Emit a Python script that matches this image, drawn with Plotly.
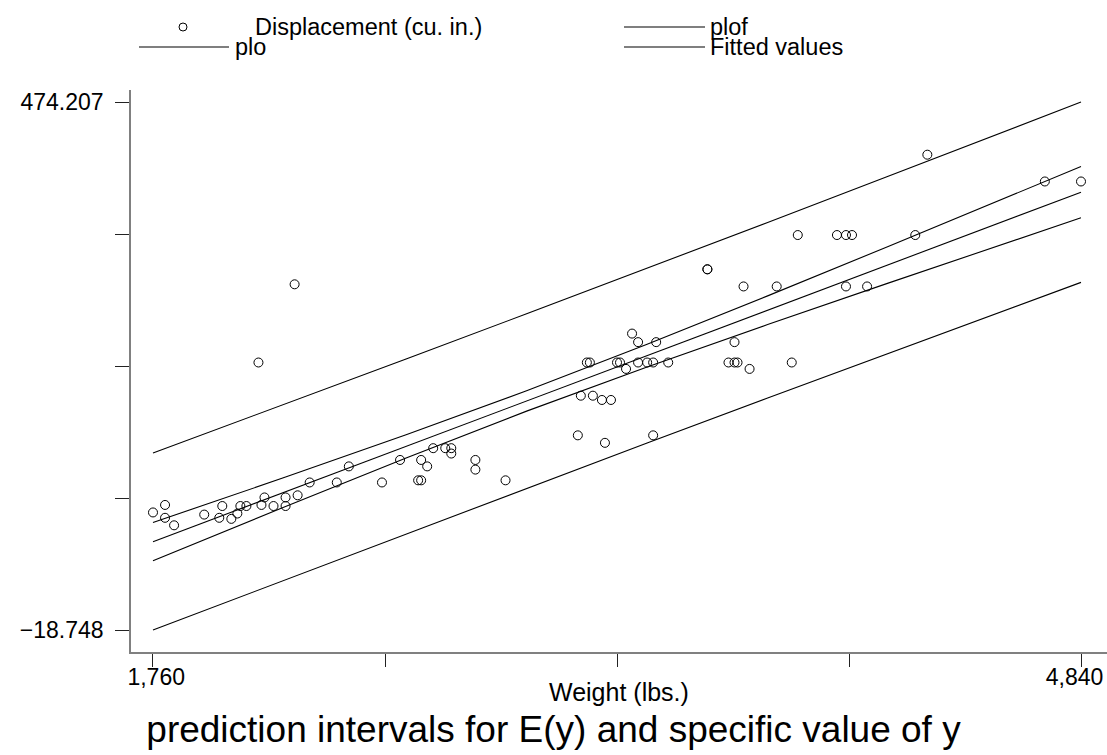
import plotly.graph_objects as go

# ---- data: auto dataset (weight in lbs, displacement in cu. in.) ----
weight = [2930, 3350, 2640, 3250, 4080, 3670, 2230, 3280, 3880, 3400,
          4330, 3900, 4290, 2110, 3690, 3180, 3220, 2750, 3430, 2120,
          3600, 3600, 3740, 1800, 2650, 4840, 4720, 3830, 2580, 4060,
          3720, 3370, 4130, 2830, 4060, 3310, 3300, 3690, 3370, 2730,
          4030, 3260, 1800, 2200, 2520, 3330, 3700, 3470, 3210, 3200,
          3420, 2690, 2830, 2070, 2650, 2370, 2020, 2280, 2750, 2130,
          2240, 1760, 1980, 3420, 1830, 2050, 2410, 2200, 2670, 2160,
          2040, 1930, 1990, 3170]
displacement = [121, 258, 121, 196, 350, 231, 304, 196, 231, 231,
                425, 350, 350, 231, 250, 200, 200, 151, 250, 98,
                318, 318, 225, 98, 140, 400, 400, 302, 140, 302,
                302, 250, 302, 140, 350, 231, 231, 231, 231, 151,
                350, 156, 86, 105, 119, 225, 231, 231, 231, 231,
                231, 151, 131, 97, 121, 119, 85, 119, 146, 105,
                107, 91, 86, 163, 79, 97, 134, 97, 134, 97,
                90, 89, 97, 163]

line_weight = [1760, 2200, 2600, 3000, 3400, 3800, 4200, 4840]
fitted      = [63.7, 110.3, 152.7, 195.1, 237.4, 279.8, 322.2, 390.0]
plof_hi     = [146.5, 192.3, 234.3, 276.5, 318.9, 361.7, 404.8, 474.2]
plof_lo     = [-18.7, 28.3, 71.1, 113.7, 155.9, 197.9, 239.6, 305.8]
plo_hi      = [81.6, 124.0, 163.5, 204.6, 248.0, 293.2, 339.3, 413.9]
plo_lo      = [45.8, 96.6, 141.9, 185.6, 226.8, 266.4, 305.1, 366.1]

x_tickvals = [1760, 2530, 3300, 4070, 4840]
x_ticktext = ["\u00a01,760", "", "", "", "4,840\u00a0\u00a0"]
y_tickvals = [-18.748, 104.4915, 227.7295, 350.9675, 474.207]
y_ticktext = ["\u221218.748", "", "", "", "474.207"]

legend_names = ["Displacement (cu. in.)", "plof", "plo", "Fitted values"]
x_title = "Weight (lbs.)"
chart_title = "prediction intervals for E(y) and specific value of y"

FONT = "Liberation Sans, Arial, Helvetica, sans-serif"
W, H = 1107, 755
ML, MR, MT, MB = 131, 0, 90, 103
PW, PH = W - ML - MR, H - MT - MB

def px(xp):
    return (xp - ML) / PW

def py(yp):
    return (H - MB - yp) / PH

fig = go.Figure()
fig.add_trace(go.Scatter(
    x=weight, y=displacement, mode="markers", name=legend_names[0],
    marker=dict(symbol="circle-open", size=9, color="black",
                line=dict(width=1, color="black")),
    showlegend=False))

line_style = dict(color="black", width=1.1)
fig.add_trace(go.Scatter(
    x=line_weight + [None] + line_weight, y=plof_hi + [None] + plof_lo,
    mode="lines", name=legend_names[1], line=line_style, showlegend=False))
fig.add_trace(go.Scatter(
    x=line_weight + [None] + line_weight, y=plo_hi + [None] + plo_lo,
    mode="lines", name=legend_names[2], line=line_style, showlegend=False))
fig.add_trace(go.Scatter(
    x=line_weight, y=fitted, mode="lines", name=legend_names[3],
    line=line_style, showlegend=False))

# ---- custom Stata-style legend ----
shapes = []
annotations = []
row_y = [27, 47]
# (row, key x0, key x1, text x, kind)
entries = [
    (0, 139, 228, 253, "marker"),
    (0, 624, 705, 708, "line"),
    (1, 139, 229, 233, "line"),
    (1, 624, 705, 708, "line"),
]
for i, (r, k0, k1, tx, kind) in enumerate(entries):
    yv = py(row_y[r])
    if kind == "marker":
        cx = px(183)
        shapes.append(dict(type="circle", xref="paper", yref="paper",
                           xsizemode="pixel", ysizemode="pixel",
                           xanchor=cx, yanchor=yv, x0=-4, x1=4, y0=-4, y1=4,
                           line=dict(color="black", width=1)))
    else:
        shapes.append(dict(type="line", xref="paper", yref="paper",
                           x0=px(k0), x1=px(k1), y0=yv, y1=yv,
                           line=dict(color="black", width=1.1)))
    annotations.append(dict(text=legend_names[i], xref="paper", yref="paper",
                            x=px(tx), y=yv, xanchor="left",
                            yanchor="middle", showarrow=False,
                            font=dict(family=FONT, size=23.5, color="black")))

# x-axis title
annotations.append(dict(text=x_title, xref="paper", yref="paper",
                        x=0.5, y=py(692), xanchor="center", yanchor="middle",
                        showarrow=False,
                        font=dict(family=FONT, size=25, color="black")))

fig.update_layout(
    width=W, height=H,
    margin=dict(l=ML, r=MR, t=MT, b=MB, pad=0),
    paper_bgcolor="white", plot_bgcolor="white",
    font=dict(family=FONT, color="black"),
    title=dict(text=chart_title,
               xref="container", yref="container", x=0.5, xanchor="center",
               y=1 - 729 / H, yanchor="middle", automargin=False,
               font=dict(family=FONT, size=37, color="black")),
    xaxis=dict(range=[1687.0, 4926.3], showgrid=False, zeroline=False,
               automargin=False,
               showline=True, linecolor="#808080", linewidth=1.5,
               ticks="outside", ticklen=13, tickwidth=1, tickcolor="#222",
               tickvals=x_tickvals, ticktext=x_ticktext,
               ticklabelstandoff=-9, ticklabeloverflow="allow",
               tickfont=dict(family=FONT, size=23, color="black")),
    yaxis=dict(range=[-39.29, 485.41], showgrid=False, zeroline=False,
               automargin=False,
               showline=True, linecolor="#808080", linewidth=1.5,
               ticks="outside", ticklen=14, tickwidth=1, tickcolor="#222",
               tickvals=y_tickvals, ticktext=y_ticktext,
               ticklabelstandoff=7, ticklabeloverflow="allow",
               tickfont=dict(family=FONT, size=23, color="black")),
    shapes=shapes, annotations=annotations,
)

fig.write_html("out.html",
               config={"displayModeBar": False},
               post_script="document.body.style.margin='0';"
                           "document.body.style.overflow='hidden';")
